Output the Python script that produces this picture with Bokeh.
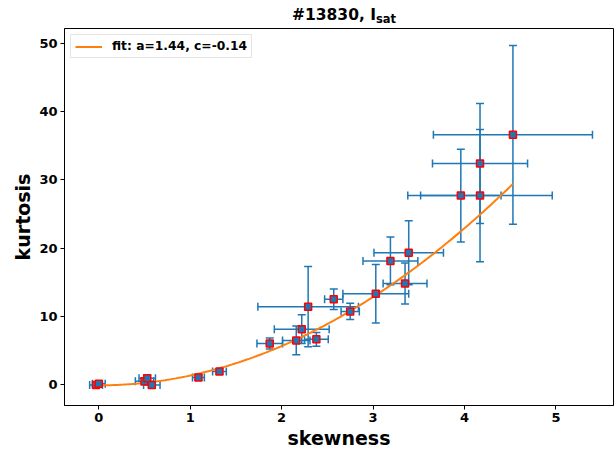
import numpy as np
from bokeh.plotting import figure
from bokeh.layouts import column
from bokeh.models import (ColumnDataSource, Whisker, TeeHead, FixedTicker,
                          Legend, LegendItem, Range1d, Div)
from bokeh.embed import file_html
from bokeh.resources import INLINE

# ---- data ----
skewness = [-0.03, 0.00, 0.50, 0.53, 0.58, 1.09, 1.32, 1.87, 2.16, 2.22, 2.29,
            2.38, 2.57, 2.75, 3.03, 3.19, 3.35, 3.39, 3.96, 4.17, 4.17, 4.53]
kurtosis = [-0.1, 0.1, 0.45, 0.9, -0.1, 1.0, 1.9, 6.0, 6.45, 8.1, 11.4,
            6.6, 12.5, 10.7, 13.3, 18.1, 14.8, 19.3, 27.7, 32.4, 27.7, 36.6]
skew_err = [0.07, 0.07, 0.10, 0.09, 0.09, 0.065, 0.075, 0.14, 0.15, 0.30, 0.55,
            0.13, 0.10, 0.10, 0.36, 0.30, 0.24, 0.38, 0.44, 0.52, 0.79, 0.87]
kurt_err = [0.3, 0.3, 0.5, 0.5, 0.4, 0.4, 0.4, 0.8, 2.1, 2.1, 5.9,
            1.0, 1.5, 1.2, 4.3, 3.5, 3.0, 4.7, 6.8, 8.8, 9.7, 13.1]
fit_a = 1.44
fit_c = -0.14
x_ticks = [0, 1, 2, 3, 4, 5]
y_ticks = [0, 10, 20, 30, 40, 50]
title_main = "#13830, I"
title_sub = "sat"
x_label = "skewness"
y_label = "kurtosis"

FONT = "DejaVu Sans"
C0 = "#1f77b4"
C1 = "#ff7f0e"

s = np.array(skewness)
k = np.array(kurtosis)
se = np.array(skew_err)
ke = np.array(kurt_err)

src = ColumnDataSource(dict(x=s, y=k, xl=s - se, xu=s + se, yl=k - ke, yu=k + ke))

xfit = np.linspace(s.min(), s.max(), 200)
yfit = fit_a * xfit ** 2 + fit_c
fit_src = ColumnDataSource(dict(x=xfit, y=yfit))

TITLE_H = 28
p = figure(width=614, height=451 - TITLE_H, output_backend="svg", toolbar_location=None,
           x_range=Range1d(-0.375, 5.63), y_range=Range1d(-3.1, 52.2),
           min_border_left=64, min_border_right=1, min_border_top=0, min_border_bottom=46)
p.grid.visible = False
p.outline_line_color = "black"
p.outline_line_width = 1
p.outline_line_alpha = 1

for w in [
    Whisker(source=src, base="x", lower="yl", upper="yu", dimension="height"),
    Whisker(source=src, base="y", lower="xl", upper="xu", dimension="width"),
]:
    w.line_color = C0
    w.line_width = 1.5
    w.upper_head = TeeHead(size=8, line_color=C0, line_width=1.5)
    w.lower_head = TeeHead(size=8, line_color=C0, line_width=1.5)
    w.level = "underlay"
    p.add_layout(w)

line = p.line("x", "y", source=fit_src, line_color=C1, line_width=2)
p.scatter("x", "y", source=src, marker="square", size=7, fill_color=C0,
          line_color="red", line_width=1.5)

legend = Legend(items=[LegendItem(label=f"fit: a={fit_a:.2f}, c={fit_c:.2f}", renderers=[line])],
                location="top_left")
legend.label_text_font = FONT
legend.label_text_font_style = "bold"
legend.label_text_font_size = "12.3px"
legend.label_text_color = "black"
legend.border_line_color = "#cccccc"
legend.background_fill_alpha = 0.8
legend.glyph_width = 27
legend.glyph_height = 13
legend.label_standoff = 10
legend.margin = 6
legend.padding = 4
legend.label_height = 13
p.add_layout(legend)

for ax in (p.xaxis[0], p.yaxis[0]):
    ax.major_label_text_font = FONT
    ax.major_label_text_font_style = "bold"
    ax.major_label_text_font_size = "13px"
    ax.major_label_text_color = "black"
    ax.axis_label_text_font = FONT
    ax.axis_label_text_font_style = "bold"
    ax.axis_label_text_font_size = "19px"
    ax.axis_label_text_color = "black"
    ax.major_tick_out = 4
    ax.major_tick_in = 0
    ax.minor_tick_out = 0
    ax.minor_tick_in = 0
    ax.axis_line_color = "black"
    ax.major_tick_line_color = "black"
    ax.major_label_standoff = 3
    ax.axis_label_standoff = 2

p.xaxis[0].ticker = FixedTicker(ticks=x_ticks)
p.yaxis[0].ticker = FixedTicker(ticks=y_ticks)
p.xaxis[0].axis_label = x_label
p.yaxis[0].axis_label = y_label

title_html = (
    f'<div style="position:absolute; left:292px; top:4px; white-space:nowrap; '
    f'font-family:\'DejaVu Sans\'; font-weight:bold; font-size:15.5px; color:black;">'
    f'{title_main}<sub style="font-size:11.5px; vertical-align:-3px;">{title_sub}</sub></div>'
)
title = Div(text=title_html, width=614, height=TITLE_H, margin=0)

layout = column(title, p, spacing=0, margin=0)
open("out.html", "w").write(file_html(layout, INLINE))
